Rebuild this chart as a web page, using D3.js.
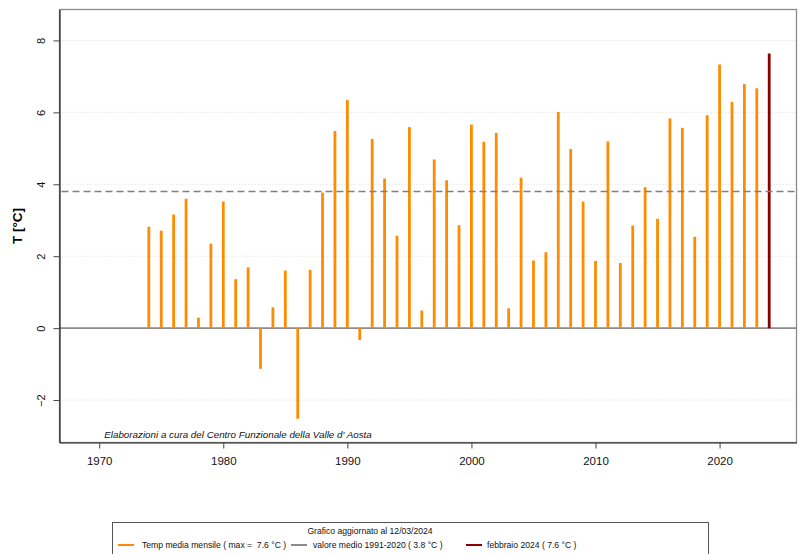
<!DOCTYPE html>
<html>
<head>
<meta charset="utf-8">
<script src="https://cdn.jsdelivr.net/npm/d3@7"></script>
<style>
  html, body { margin: 0; padding: 0; background: #fff; }
  svg { display: block; font-family: "Liberation Sans", Arial, Helvetica, sans-serif; }
  text { white-space: pre; }
</style>
</head>
<body>
<svg id="chart" width="803" height="554"></svg>
<script>
// February mean temperature per year (°C)
const years = [
  1974, 1975, 1976, 1977, 1978, 1979, 1980, 1981, 1982, 1983,
  1984, 1985, 1986, 1987, 1988, 1989, 1990, 1991, 1992, 1993,
  1994, 1995, 1996, 1997, 1998, 1999, 2000, 2001, 2002, 2003,
  2004, 2005, 2006, 2007, 2008, 2009, 2010, 2011, 2012, 2013,
  2014, 2015, 2016, 2017, 2018, 2019, 2020, 2021, 2022, 2023,
  2024
];
const temps = [
  2.82, 2.71, 3.16, 3.60, 0.29, 2.35, 3.52, 1.36, 1.69, -1.13,
  0.58, 1.60, -2.52, 1.62, 3.77, 5.48, 6.34, -0.33, 5.26, 4.16,
  2.57, 5.59, 0.49, 4.69, 4.11, 2.86, 5.66, 5.18, 5.43, 0.55,
  4.18, 1.88, 2.11, 6.01, 4.98, 3.52, 1.87, 5.19, 1.81, 2.85,
  3.92, 3.04, 5.83, 5.57, 2.54, 5.92, 7.33, 6.29, 6.79, 6.67,
  7.64
];
const climateMean = 3.8;           // 1991-2020 reference value
const currentLabel = "febbraio 2024";
const updatedOn = "12/03/2024";
const xTicks = [1970, 1980, 1990, 2000, 2010, 2020];
const yTicks = [-2, 0, 2, 4, 6, 8];

const svg = d3.select("#chart");
const plot = { left: 59.5, right: 796.5, top: 9.5, bottom: 442.5 };

const x = d3.scaleLinear().domain([1966.8, 2026.2]).range([plot.left, plot.right]);
const y = d3.scaleLinear().domain([-3.18, 8.86]).range([plot.bottom, plot.top]);

const data = years.map((yr, i) => ({ year: yr, value: temps[i] }));
const last = data[data.length - 1];
const maxVal = d3.max(temps);

// horizontal dotted grid
svg.append("g")
  .selectAll("line")
  .data(yTicks)
  .join("line")
  .attr("x1", plot.left).attr("x2", plot.right)
  .attr("y1", d => y(d)).attr("y2", d => y(d))
  .attr("stroke", "#d9d9d9")
  .attr("stroke-width", 1)
  .attr("stroke-dasharray", "1,2");

// plot frame
svg.append("rect")
  .attr("x", plot.left).attr("y", plot.top)
  .attr("width", plot.right - plot.left)
  .attr("height", plot.bottom - plot.top)
  .attr("fill", "none")
  .attr("stroke", "#8a8a8a")
  .attr("stroke-width", 1.3);

// zero line
svg.append("line")
  .attr("x1", plot.left).attr("x2", plot.right)
  .attr("y1", y(0)).attr("y2", y(0))
  .attr("stroke", "#8c8c8c")
  .attr("stroke-width", 1.6);

// yearly bars
svg.append("g")
  .selectAll("line")
  .data(data)
  .join("line")
  .attr("x1", d => x(d.year)).attr("x2", d => x(d.year))
  .attr("y1", y(0)).attr("y2", d => y(d.value))
  .attr("stroke", d => d === last ? "#8b0000" : "#ff8c00")
  .attr("stroke-width", 2.8);

// climatological mean
svg.append("line")
  .attr("x1", plot.left + 2).attr("x2", plot.right - 1)
  .attr("y1", y(climateMean)).attr("y2", y(climateMean))
  .attr("stroke", "#808080")
  .attr("stroke-width", 1.5)
  .attr("stroke-dasharray", "7,4");

// axes
const yAxis = d3.axisLeft(y).tickValues(yTicks).tickSizeInner(6).tickSizeOuter(0)
  .tickPadding(9).tickFormat(d3.format("d"));
const gy = svg.append("g").attr("transform", `translate(${plot.left},0)`).call(yAxis);
gy.select(".domain").attr("stroke", "#222").attr("stroke-width", 1.2);
gy.selectAll(".tick line").attr("stroke", "#444");
gy.selectAll(".tick text")
  .attr("font-size", 11)
  .attr("fill", "#111")
  .attr("text-anchor", "middle")
  .attr("dy", null)
  .attr("transform", `translate(${-18.5},0) rotate(-90)`)
  .attr("x", 0).attr("y", 0)
  .attr("dominant-baseline", "central");

const xAxis = d3.axisBottom(x).tickValues(xTicks).tickSizeInner(6).tickSizeOuter(0)
  .tickPadding(8).tickFormat(d3.format("d"));
const gx = svg.append("g").attr("transform", `translate(0,${plot.bottom})`).call(xAxis);
gx.select(".domain").attr("stroke", "#222").attr("stroke-width", 1.2);
gx.selectAll(".tick line").attr("stroke", "#444");
gx.selectAll(".tick text").attr("font-size", 11.5).attr("fill", "#111");

// y axis title
svg.append("text")
  .attr("transform", `translate(22,${(plot.top + plot.bottom) / 2}) rotate(-90)`)
  .attr("text-anchor", "middle")
  .attr("font-size", 13.5)
  .attr("font-weight", "bold")
  .attr("fill", "#000")
  .text("T [°C]");

// credit line
svg.append("text")
  .attr("x", 238).attr("y", 438)
  .attr("text-anchor", "middle")
  .attr("font-size", 9.8)
  .attr("font-style", "italic")
  .attr("fill", "#111")
  .text("Elaborazioni a cura del Centro Funzionale della Valle d' Aosta");

// legend
const lg = svg.append("g");
lg.append("rect")
  .attr("x", 112.5).attr("y", 522.5)
  .attr("width", 596).attr("height", 40)
  .attr("fill", "#fff")
  .attr("stroke", "#555")
  .attr("stroke-width", 1);
lg.append("text")
  .attr("x", 370).attr("y", 534)
  .attr("text-anchor", "middle")
  .attr("font-size", 8.6)
  .attr("fill", "#111")
  .text(`Grafico aggiornato al ${updatedOn}`);

const legendItems = [
  { color: "#ff8c00", x0: 118, tx: 142, label: `Temp media mensile ( max =  ${maxVal.toFixed(1)} °C )` },
  { color: "#8c8c8c", x0: 291, tx: 313, label: `valore medio 1991-2020 ( ${climateMean.toFixed(1)} °C )` },
  { color: "#8b0000", x0: 466, tx: 487, label: `${currentLabel} ( ${last.value.toFixed(1)} °C )` }
];
const li = lg.selectAll("g.item").data(legendItems).join("g").attr("class", "item");
li.append("line")
  .attr("x1", d => d.x0).attr("x2", d => d.x0 + 16)
  .attr("y1", 545).attr("y2", 545)
  .attr("stroke", d => d.color)
  .attr("stroke-width", 2);
li.append("text")
  .attr("x", d => d.tx).attr("y", 548)
  .attr("font-size", 8.6)
  .attr("fill", "#111")
  .text(d => d.label);
</script>
</body>
</html>
